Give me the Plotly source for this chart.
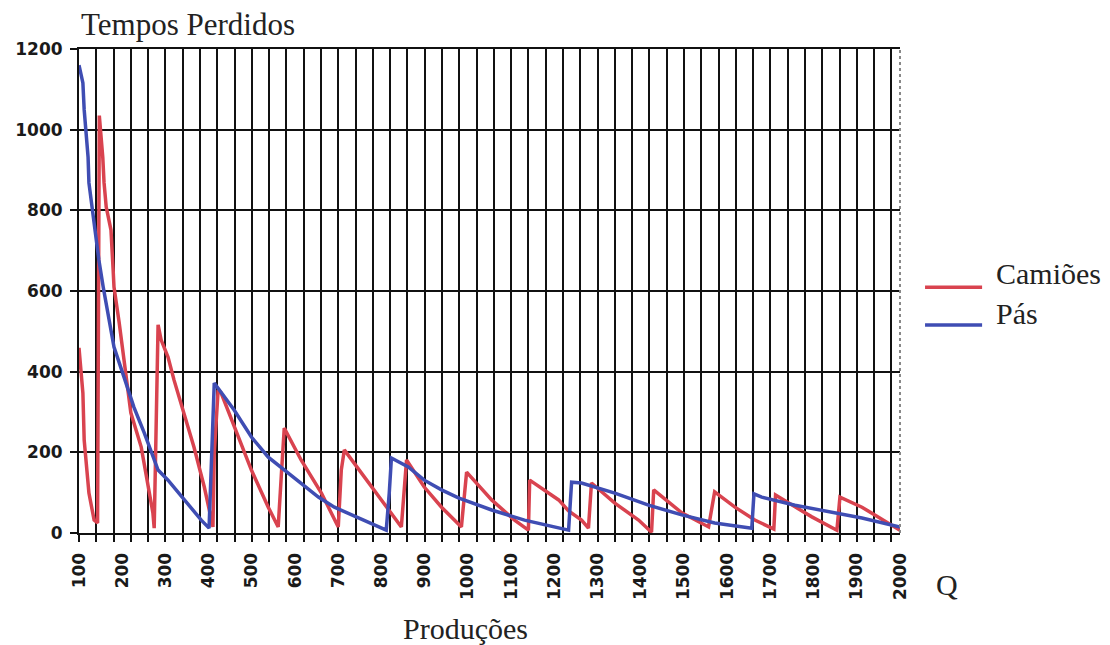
import plotly.graph_objects as go

# ---- data ----
camioes_x = [100, 102, 109, 112, 123, 135, 143, 145, 147, 155,
             158, 163, 174, 179, 181, 193, 204, 220, 244, 260,
             271, 274, 278, 283, 290, 306, 320, 343, 366, 390,
             401, 410, 413, 422, 429, 459, 499, 538, 561, 568,
             575, 614, 661, 700, 707, 714, 770, 816, 846, 858,
             899, 939, 985, 997, 1055, 1108, 1140, 1143, 1210, 1233,
             1263, 1279, 1286, 1340, 1395, 1425, 1430, 1495, 1557, 1571,
             1618, 1664, 1696, 1708, 1712, 1796, 1854, 1861, 1912, 2000]
camioes_y = [459, 429, 347, 230, 99, 32, 25, 530, 1035, 932,
             868, 808, 751, 652, 610, 521, 429, 298, 213, 114,
             50, 12, 255, 516, 479, 436, 379, 298, 213, 114,
             64, 15, 198, 355, 347, 263, 156, 64, 15, 139,
             260, 181, 99, 15, 156, 206, 124, 57, 15, 181,
             114, 64, 15, 151, 82, 32, 7, 131, 82, 55,
             32, 12, 124, 74, 32, 2, 107, 50, 15, 102,
             64, 32, 15, 10, 94, 40, 7, 89, 64, 7]

pas_x = [100, 109, 112, 121, 123, 132, 139, 146, 156, 167,
         181, 204, 227, 251, 283, 306, 343, 383, 401, 406,
         413, 459, 499, 538, 575, 614, 654, 691, 730, 770,
         811, 818, 823, 862, 899, 939, 978, 1055, 1131, 1233,
         1240, 1263, 1340, 1418, 1495, 1571, 1657, 1662, 1680, 1757,
         1835, 1912, 2000]
pas_y = [1160, 1116, 1049, 932, 868, 793, 727, 677, 610, 545,
         461, 387, 312, 248, 156, 131, 82, 32, 12, 181,
         372, 305, 238, 188, 156, 124, 89, 64, 45, 27,
         7, 99, 186, 164, 131, 107, 87, 57, 32, 7,
         126, 124, 99, 69, 45, 25, 12, 97, 89, 69,
         52, 37, 15]

series_names = ["Camiões", "Pás"]
series_colors = ["#d9434f", "#3f4db3"]

x_label_vals = list(range(100, 2001, 100))
x_label_text = [str(v) for v in x_label_vals]
y_tick_vals = [0, 200, 400, 600, 800, 1000, 1200]

serif = "Liberation Serif, Times New Roman, serif"
tickfont = dict(family="DejaVu Sans", size=17, color="#1a1a1a", weight="bold")

fig = go.Figure()
# helper (draws nothing) so the grid axis is active
fig.add_trace(go.Scatter(x=[x_label_vals[0], x_label_vals[-1]],
                         y=[y_tick_vals[0], y_tick_vals[0]], mode="none",
                         xaxis="x", yaxis="y", showlegend=False, hoverinfo="skip"))
fig.add_trace(go.Scatter(x=camioes_x, y=camioes_y, mode="lines", name=series_names[0],
                         xaxis="x2", yaxis="y", showlegend=False,
                         line=dict(color=series_colors[0], width=3.5)))
fig.add_trace(go.Scatter(x=pas_x, y=pas_y, mode="lines", name=series_names[1],
                         xaxis="x2", yaxis="y", showlegend=False,
                         line=dict(color=series_colors[1], width=3.5)))

# manual legend (longer line samples, text offset like the reference)
legend_line_y = [0.508, 0.430]
legend_text_y = [0.537, 0.4545]
shapes = [dict(type="line", xref="paper", yref="paper", x0=1, x1=1, y0=0, y1=1,
               line=dict(color="#888888", width=2, dash="dot"))]
annotations = []
for name, col, ly, ty in zip(series_names, series_colors, legend_line_y, legend_text_y):
    shapes.append(dict(type="line", xref="paper", yref="paper", x0=1.0305, x1=1.1,
                       y0=ly, y1=ly, line=dict(color=col, width=3.5)))
    annotations.append(dict(text=name, xref="paper", yref="paper", x=1.115, y=ty,
                            xanchor="left", yanchor="middle", showarrow=False,
                            font=dict(family=serif, size=30, color="#222222")))

annotations += [
    dict(text="Tempos Perdidos", xref="paper", yref="paper", x=0, y=1.05,
         xanchor="left", yanchor="middle", showarrow=False,
         font=dict(family=serif, size=31, color="#222222")),
    dict(text="Produções", xref="paper", yref="paper", x=0.471, y=-0.198,
         xanchor="center", yanchor="middle", showarrow=False,
         font=dict(family=serif, size=30, color="#222222")),
    dict(text="Q", xref="paper", yref="paper", x=1.057, y=-0.107,
         xanchor="center", yanchor="middle", showarrow=False,
         font=dict(family=serif, size=30, color="#222222")),
]

fig.update_layout(
    width=1110, height=645,
    margin=dict(l=79, r=210, t=49, b=112),
    paper_bgcolor="white", plot_bgcolor="white",
    showlegend=False,
    # grid axis (vertical gridlines every 40 units, with small tick marks)
    xaxis=dict(range=[100, 2000], tick0=100, dtick=40, showticklabels=False,
               ticks="outside", ticklen=7, tickwidth=2, tickcolor="#111111",
               showgrid=True, gridcolor="#111111", gridwidth=2, zeroline=False,
               showline=True, linecolor="#111111", linewidth=2, mirror=True),
    # label axis (tick labels every 100 units)
    xaxis2=dict(range=[100, 2000], overlaying="x", side="bottom", anchor="y",
                tickmode="array", tickvals=x_label_vals, ticktext=x_label_text,
                tickangle=-90, tickfont=tickfont,
                ticks="outside", ticklen=12, tickcolor="rgba(0,0,0,0)",
                showgrid=False, zeroline=False, showline=False),
    yaxis=dict(range=[0, 1200], tickmode="array", tickvals=y_tick_vals,
               tickfont=tickfont, ticks="outside", ticklen=7, tickwidth=2,
               ticklabelstandoff=4,
               tickcolor="#111111", showgrid=True, gridcolor="#111111",
               gridwidth=2, zeroline=True, zerolinecolor="#111111", zerolinewidth=2,
               showline=True, linecolor="#111111", linewidth=2),
    annotations=annotations,
    shapes=shapes,
)

fig.write_html("out.html")
